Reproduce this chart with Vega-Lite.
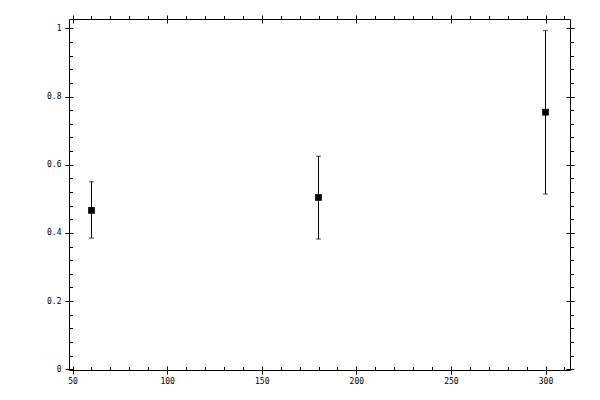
{
  "$schema": "https://vega.github.io/schema/vega-lite/v6.json",
  "width": 501,
  "height": 351,
  "autosize": "none",
  "padding": {"left": 69, "top": 19, "right": 30, "bottom": 30},
  "background": "white",
  "config": {
    "view": {"stroke": null},
    "axis": {
      "title": null,
      "grid": false,
      "labelFont": "DejaVu Sans Mono",
      "labelFontSize": 8,
      "labelColor": "black",
      "tickColor": "black",
      "domainColor": "black",
      "tickWidth": 1,
      "domainWidth": 1,
      "labelFlush": false
    }
  },
  "data": {
    "values": [
      {"x": 60, "mean": 0.466, "lo": 0.385, "hi": 0.55},
      {"x": 180, "mean": 0.504, "lo": 0.382, "hi": 0.625},
      {"x": 300, "mean": 0.754, "lo": 0.514, "hi": 0.993}
    ]
  },
  "resolve": {"axis": {"x": "independent", "y": "independent"}},
  "layer": [
    {
      "mark": {"type": "rule", "color": "black", "strokeWidth": 1},
      "encoding": {
        "x": {
          "field": "x", "type": "quantitative",
          "scale": {"domain": [48.106, 312.95], "nice": false, "zero": false},
          "axis": {
            "orient": "bottom", "offset": -4, "tickSize": 8, "domain": false,
            "values": [50, 100, 150, 200, 250, 300], "labelPadding": 3, "format": "d"
          }
        },
        "y": {
          "field": "lo", "type": "quantitative",
          "scale": {"domain": [-0.002, 1.0273], "nice": false, "zero": false},
          "axis": {
            "orient": "left", "offset": -4, "tickSize": 8, "domain": false,
            "values": [0, 0.2, 0.4, 0.6, 0.8, 1], "labelPadding": 4, "format": "~g"
          }
        },
        "y2": {"field": "hi"}
      }
    },
    {
      "mark": {"type": "point", "shape": "square", "filled": true, "color": "black", "size": 45, "opacity": 1},
      "encoding": {
        "x": {
          "field": "x", "type": "quantitative",
          "axis": {
            "orient": "top", "offset": -4, "tickSize": 8, "domain": false,
            "labels": false, "values": [50, 100, 150, 200, 250, 300]
          }
        },
        "y": {
          "field": "mean", "type": "quantitative",
          "axis": {
            "orient": "right", "offset": -4, "tickSize": 8, "domain": false,
            "labels": false, "values": [0, 0.2, 0.4, 0.6, 0.8, 1]
          }
        }
      }
    },
    {
      "mark": {"type": "tick", "orient": "horizontal", "color": "black", "size": 5, "thickness": 1},
      "encoding": {
        "x": {
          "field": "x", "type": "quantitative",
          "axis": {
            "orient": "bottom", "tickSize": -3.5, "domain": true, "labels": false,
            "values": [50, 60, 70, 80, 90, 100, 110, 120, 130, 140, 150, 160, 170, 180, 190, 200, 210, 220, 230, 240, 250, 260, 270, 280, 290, 300, 310]
          }
        },
        "y": {
          "field": "lo", "type": "quantitative",
          "axis": {
            "orient": "left", "tickSize": -3.5, "domain": true, "labels": false,
            "values": [0, 0.04, 0.08, 0.12, 0.16, 0.2, 0.24, 0.28, 0.32, 0.36, 0.4, 0.44, 0.48, 0.52, 0.56, 0.6, 0.64, 0.68, 0.72, 0.76, 0.8, 0.84, 0.88, 0.92, 0.96, 1]
          }
        }
      }
    },
    {
      "mark": {"type": "tick", "orient": "horizontal", "color": "black", "size": 5, "thickness": 1},
      "encoding": {
        "x": {
          "field": "x", "type": "quantitative",
          "axis": {
            "orient": "top", "tickSize": 3.5, "domain": true, "labels": false,
            "values": [50, 60, 70, 80, 90, 100, 110, 120, 130, 140, 150, 160, 170, 180, 190, 200, 210, 220, 230, 240, 250, 260, 270, 280, 290, 300, 310]
          }
        },
        "y": {
          "field": "hi", "type": "quantitative",
          "axis": {
            "orient": "right", "tickSize": 3.5, "domain": true, "labels": false,
            "values": [0, 0.04, 0.08, 0.12, 0.16, 0.2, 0.24, 0.28, 0.32, 0.36, 0.4, 0.44, 0.48, 0.52, 0.56, 0.6, 0.64, 0.68, 0.72, 0.76, 0.8, 0.84, 0.88, 0.92, 0.96, 1]
          }
        }
      }
    }
  ]
}
